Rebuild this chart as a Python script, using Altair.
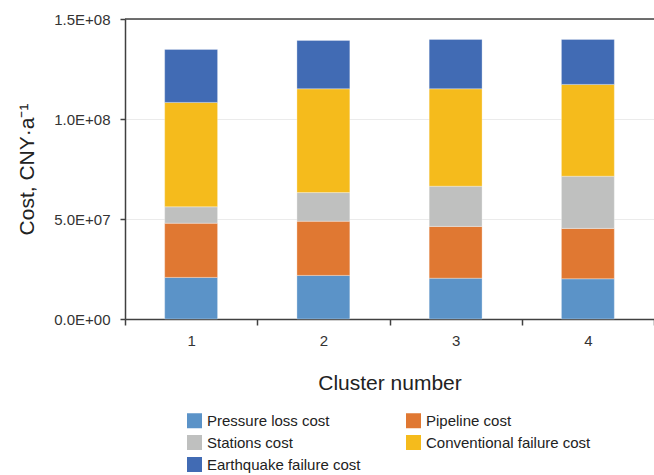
import altair as alt
import pandas as pd

clusters = ["1", "2", "3", "4"]
series = ["Pressure loss cost", "Pipeline cost", "Stations cost",
          "Conventional failure cost", "Earthquake failure cost"]
pressure_loss = [20.8e6, 21.8e6, 20.4e6, 20.1e6]
pipeline = [27.1e6, 27.1e6, 25.9e6, 25.2e6]
stations = [8.2e6, 14.3e6, 20.1e6, 26.1e6]
conventional = [52.2e6, 51.9e6, 48.7e6, 45.9e6]
earthquake = [26.5e6, 24.2e6, 24.7e6, 22.5e6]
colors = ["#5B93C8", "#E07832", "#BFC0BF", "#F5BB1C", "#416BB4"]
y_ticks = [0, 5e7, 1e8, 1.5e8]

# legend fills column-wise, so reorder domain to show rows as in the reference
legend_order = [0, 2, 4, 1, 3]
legend_domain = [series[i] for i in legend_order]
legend_range = [colors[i] for i in legend_order]

rows = []
for name, vals in zip(series, [pressure_loss, pipeline, stations, conventional, earthquake]):
    for c, v in zip(clusters, vals):
        rows.append({"cluster": c, "series": name, "value": v, "order": series.index(name)})
df = pd.DataFrame(rows)

FONT = "Liberation Sans"

label_expr = ("datum.value == 0 ? '0.0E+00' : "
              "format(datum.value / pow(10, floor(log(datum.value)/LN10 + 1e-9)), '.1f') + 'E+' + "
              "format(floor(log(datum.value)/LN10 + 1e-9), '02d')")

bars = alt.Chart(df).mark_bar(width=alt.RelativeBandSize(0.4), stroke="white",
                              strokeWidth=0.6, strokeOpacity=0.5).encode(
    x=alt.X("cluster:N", sort=clusters,
            scale=alt.Scale(paddingInner=0, paddingOuter=0),
            axis=alt.Axis(title="Cluster number", labelAngle=0, tickBand="extent",
                          tickSize=6, labelPadding=8, titlePadding=24)),
    y=alt.Y("value:Q", stack="zero",
            scale=alt.Scale(domain=[0, 1.5e8], nice=False),
            axis=alt.Axis(title="Cost, CNY·a⁻¹", values=y_ticks, labelExpr=label_expr,
                          tickSize=5, labelPadding=10, titlePadding=16, grid=True)),
    color=alt.Color("series:N",
                    scale=alt.Scale(domain=legend_domain, range=legend_range),
                    legend=alt.Legend(title=None, orient="none", legendX=62, legendY=394,
                                      columns=2, columnPadding=45, rowPadding=6,
                                      symbolType="square", symbolSize=225,
                                      symbolStrokeWidth=0, labelFontSize=15,
                                      labelOffset=5, labelColor="#222222", labelLimit=400,
                                      labelFont=FONT, padding=0)),
    order=alt.Order("order:Q", sort="ascending"),
)

top = alt.Chart(pd.DataFrame({"y": [1.5e8]})).mark_rule(color="#404040", strokeWidth=1.5).encode(
    y=alt.Y("y:Q")
)

chart = alt.layer(bars, top).properties(
    width=529, height=300,
    autosize=alt.AutoSizeParams(type="none"),
    padding={"left": 125, "top": 19, "right": 0, "bottom": 156},
).configure_view(stroke=None).configure_axis(
    domainColor="#404040", domainWidth=1.5, tickColor="#404040", tickWidth=1.5,
    labelFont=FONT, titleFont=FONT, labelFontSize=15, labelColor="#333333",
    titleFontSize=21, titleFontWeight="normal", titleColor="#222222",
    gridColor="#EBEBEB", gridWidth=1,
).configure_axisX(grid=False)

chart.save("out.html", embed_options={"renderer": "svg", "actions": False})
